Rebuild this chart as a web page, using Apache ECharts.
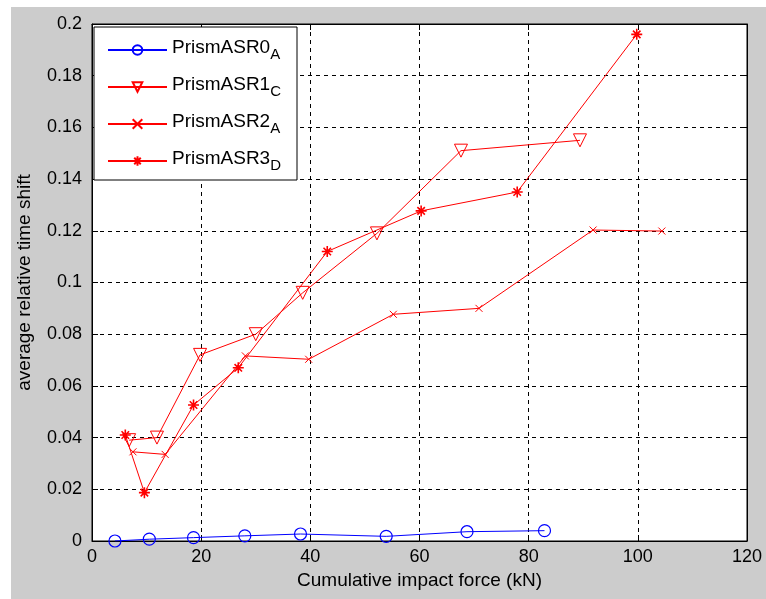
<!DOCTYPE html>
<html>
<head>
<meta charset="utf-8">
<script src="https://cdn.jsdelivr.net/npm/echarts@6/dist/echarts.min.js"></script>
<style>
html,body{margin:0;padding:0;background:#fff;width:766px;height:599px;overflow:hidden;}
#bg{position:absolute;left:11px;top:7px;right:0;bottom:0;background:#cccccc;}
#chart{position:absolute;left:0;top:0;width:766px;height:599px;}
</style>
</head>
<body>
<div id="bg"></div>
<div id="chart"></div>
<script>
// ---- data ----
const SERIES_NAMES = ['PrismASR0', 'PrismASR1', 'PrismASR2', 'PrismASR3'];
const SERIES_SUBS = ['A', 'C', 'A', 'D'];

const asr0X = [4.2, 10.5, 18.6, 28.0, 38.2, 53.9, 68.7, 82.9];
const asr0Y = [0.0000, 0.0007, 0.0013, 0.0020, 0.0027, 0.0018, 0.0036, 0.0040];

const asr1X = [6.8, 11.9, 19.8, 30.0, 38.6, 52.2, 67.6, 89.4];
const asr1Y = [0.039, 0.040, 0.072, 0.080, 0.096, 0.119, 0.151, 0.155];

const asr2X = [7.5, 13.4, 28.1, 39.7, 55.2, 70.9, 91.8, 104.4];
const asr2Y = [0.0345, 0.0335, 0.0716, 0.0703, 0.0877, 0.0900, 0.1203, 0.1199];

const asr3X = [6.1, 9.6, 18.6, 26.8, 43.1, 60.3, 77.9, 99.8];
const asr3Y = [0.041, 0.0187, 0.0526, 0.067, 0.112, 0.1277, 0.135, 0.196];

const X_LABEL = 'Cumulative impact force (kN)';
const Y_LABEL = 'average relative time shift';

// ---- build ----
const zip = (xs, ys) => xs.map((x, i) => [x, ys[i]]);
const FONT = "'Liberation Sans', Arial, sans-serif";
const RED = '#ff0000', BLUE = '#0000ff';
const X_SYM = 'path://M0,0L10,10M10,0L0,10';
const STAR_SYM = 'path://M5,0L5,10M0,5L10,5M1.6,1.6L8.4,8.4M8.4,1.6L1.6,8.4';

function mkSeries(name, data, color, symbol, size, rotate, bw) {
  return {
    name: name, type: 'line', data: data,
    symbol: symbol, symbolSize: size, symbolRotate: rotate || 0,
    showAllSymbol: true,
    lineStyle: { color: color, width: 1 },
    itemStyle: { color: 'none', borderColor: color, borderWidth: bw || 1 },
    emphasis: { disabled: true },
    animation: false, z: 3
  };
}

const tickAxisCommon = {
  type: 'value',
  axisLine: { show: true, onZero: false, lineStyle: { color: '#000', width: 1 } },
  axisTick: { show: true, inside: true, length: 6, lineStyle: { color: '#000' } },
  splitLine: { show: false },
  axisLabel: { show: false }
};

const chart = echarts.init(document.getElementById('chart'), null, { renderer: 'canvas' });
chart.setOption({
  backgroundColor: 'transparent',
  animation: false,
  textStyle: { fontFamily: FONT },
  grid: { left: 92, right: 19, top: 24, bottom: 58, show: true, backgroundColor: '#fff', borderColor: '#000', borderWidth: 1, containLabel: false },
  legend: {
    orient: 'vertical', left: 94, top: 27,
    padding: [6, 16, 7, 13],
    itemWidth: 59, itemHeight: 12, itemGap: 8,
    backgroundColor: '#fff', borderColor: '#000', borderWidth: 1, borderRadius: 0,
    data: SERIES_NAMES,
    formatter: function (name) {
      const i = SERIES_NAMES.indexOf(name);
      return '{m|' + name + '}{s|' + SERIES_SUBS[i] + '}';
    },
    textStyle: {
      color: '#000', fontFamily: FONT,
      rich: {
        m: { fontSize: 19, lineHeight: 24, verticalAlign: 'top', color: '#000', fontFamily: FONT },
        s: { fontSize: 15, lineHeight: 16, verticalAlign: 'bottom', padding: [14, 0, 0, 0], color: '#000', fontFamily: FONT }
      }
    }
  },
  xAxis: [
    {
      type: 'value', position: 'bottom', min: 0, max: 120, interval: 20,
      name: X_LABEL, nameLocation: 'middle', nameGap: 30,
      nameTextStyle: { fontSize: 19, color: '#000', fontFamily: FONT },
      axisLine: { show: true, onZero: false, lineStyle: { color: '#000', width: 1 } },
      axisTick: { show: true, inside: true, length: 6, lineStyle: { color: '#000' } },
      axisLabel: { fontSize: 18, color: '#000', margin: 7, fontFamily: FONT },
      splitLine: { show: true, lineStyle: { color: '#000', type: [4, 4], width: 1 } }
    },
    Object.assign({}, tickAxisCommon, { position: 'top', min: 0, max: 120, interval: 20 })
  ],
  yAxis: [
    {
      type: 'value', position: 'left', min: 0, max: 0.2, interval: 0.02,
      name: Y_LABEL, nameLocation: 'middle', nameGap: 58,
      nameTextStyle: { fontSize: 19, color: '#000', fontFamily: FONT },
      axisLine: { show: true, onZero: false, lineStyle: { color: '#000', width: 1 } },
      axisTick: { show: true, inside: true, length: 6, lineStyle: { color: '#000' } },
      axisLabel: { fontSize: 18, color: '#000', margin: 10, fontFamily: FONT },
      splitLine: { show: true, lineStyle: { color: '#000', type: [4, 4], width: 1 } }
    },
    Object.assign({}, tickAxisCommon, { position: 'right', min: 0, max: 0.2, interval: 0.02 })
  ],
  series: [
    mkSeries(SERIES_NAMES[0], zip(asr0X, asr0Y), BLUE, 'circle', 12, 0, 1.2),
    mkSeries(SERIES_NAMES[1], zip(asr1X, asr1Y), RED, 'triangle', 13, 180, 1),
    mkSeries(SERIES_NAMES[2], zip(asr2X, asr2Y), RED, X_SYM, 7, 0, 1),
    mkSeries(SERIES_NAMES[3], zip(asr3X, asr3Y), RED, STAR_SYM, 11, 0, 1.6)
  ]
});
</script>
</body>
</html>
